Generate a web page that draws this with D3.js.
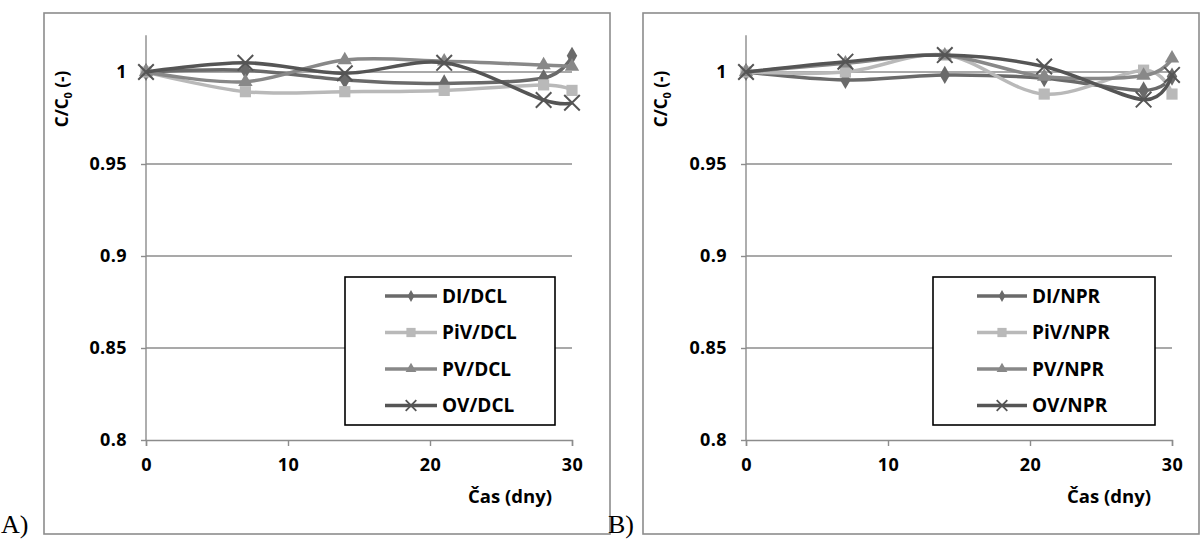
<!DOCTYPE html>
<html>
<head>
<meta charset="utf-8">
<script src="https://cdn.jsdelivr.net/npm/d3@7"></script>
<style>
  html, body { margin: 0; padding: 0; background: #fff; }
  svg { display: block; }
</style>
</head>
<body>
<svg id="chart" width="1200" height="539"></svg>
<script>
// Sampling days (x values)
const days = [0, 7, 14, 21, 28, 30];
const xTicks = [0, 10, 20, 30];
const yTicks = [0.8, 0.85, 0.9, 0.95, 1];
const yTickLabels = ["0.8", "0.85", "0.9", "0.95", "1"];

// Panel A: DCL solutions
const seriesNamesA = ["DI/DCL", "PiV/DCL", "PV/DCL", "OV/DCL"];
const diDCL  = [1, 1.001, 0.9957, 0.9938, 0.9967, 1.0088];
const pivDCL = [1, 0.9893, 0.9893, 0.990, 0.993, 0.990];
const pvDCL  = [1, 0.9947, 1.0065, 1.0058, 1.0038, 1.003];
const ovDCL  = [1, 1.005, 0.9993, 1.005, 0.9848, 0.9833];

// Panel B: NPR solutions
const seriesNamesB = ["DI/NPR", "PiV/NPR", "PV/NPR", "OV/NPR"];
const diNPR  = [1, 0.9957, 0.9984, 0.9966, 0.990, 0.9975];
const pivNPR = [1, 1.000, 1.0092, 0.988, 1.001, 0.988];
const pvNPR  = [1, 1.0047, 1.009, 0.9975, 0.998, 1.0074];
const ovNPR  = [1, 1.0056, 1.0092, 1.003, 0.985, 0.9984];

const xTitle = "Čas (dny)";

const SANS = "'Open Sans', 'Noto Sans', sans-serif";

// Shared look for the four series
const styles = [
  { color: "#6a6a6a", symbol: d3.symbolDiamond,  size: 95,  legendSize: 40, stroke: false },
  { color: "#b9b9b9", symbol: d3.symbolSquare,   size: 125, legendSize: 85, stroke: false },
  { color: "#888888", symbol: d3.symbolTriangle, size: 90,  legendSize: 50, stroke: false },
  { color: "#555555", symbol: d3.symbolX,        size: 160, legendSize: 75, stroke: true }
];

const svg = d3.select("#chart");

function boldText(sel, size) {
  return sel.style("font-family", SANS).style("font-weight", 700)
    .style("font-size", size + "px").style("fill", "#000");
}

function drawPanel(cfg) {
  const g = svg.append("g");

  // outer frame
  g.append("rect")
    .attr("x", cfg.frame[0]).attr("y", cfg.frame[1])
    .attr("width", cfg.frame[2] - cfg.frame[0]).attr("height", cfg.frame[3] - cfg.frame[1])
    .attr("fill", "#fff").attr("stroke", "#8c8c8c").attr("stroke-width", 1.6);

  const x = d3.scaleLinear().domain([0, 30]).range(cfg.xRange);
  const y = d3.scaleLinear().domain([0.8, 1.02]).range([440, 35.2]);

  // horizontal gridlines
  g.append("g").selectAll("line")
    .data(yTicks.filter(v => v > 0.8))
    .join("line")
    .attr("x1", x(0)).attr("x2", x(30))
    .attr("y1", d => y(d)).attr("y2", d => y(d))
    .attr("stroke", "#8c8c8c").attr("stroke-width", 1.4);

  // y axis
  const yAxis = g.append("g")
    .attr("transform", `translate(${x(0)},0)`)
    .call(d3.axisLeft(y).tickValues(yTicks)
      .tickFormat((d, i) => yTickLabels[i]).tickSize(5).tickPadding(14));
  // x axis
  const xAxis = g.append("g")
    .attr("transform", `translate(0,${y(0.8)})`)
    .call(d3.axisBottom(x).tickValues(xTicks).tickSize(6).tickPadding(12));

  [yAxis, xAxis].forEach(a => {
    a.select(".domain").attr("stroke", "#8c8c8c").attr("stroke-width", 1.4);
    a.selectAll(".tick line").attr("stroke", "#8c8c8c").attr("stroke-width", 1.4);
    boldText(a.selectAll(".tick text"), 18).style("letter-spacing", "0.4px");
  });
  yAxis.select(".domain").attr("d", `M0,${y(0.8)}V${y(1.02)}`);

  // y axis title  C/C0 (-)
  const yt = boldText(g.append("text"), 17)
    .attr("transform", `translate(${cfg.frame[0] + 24},99) rotate(-90)`)
    .attr("text-anchor", "middle");
  yt.append("tspan").text("C/C");
  yt.append("tspan").style("font-size", "11px").attr("dy", 4).text("0");
  yt.append("tspan").attr("dy", -4).text(" (-)");

  // x axis title
  boldText(g.append("text"), 18.5)
    .attr("x", cfg.xTitleX).attr("y", 503)
    .attr("text-anchor", "middle")
    .text(xTitle);

  // smoothed series lines
  const line = d3.line()
    .x((d, i) => x(days[i]))
    .y(d => y(d))
    .curve(d3.curveCardinal.tension(0));

  cfg.series.forEach((vals, si) => {
    const st = styles[si];
    const sg = g.append("g");
    sg.append("path")
      .attr("d", line(vals))
      .attr("fill", "none")
      .attr("stroke", st.color)
      .attr("stroke-width", 3.5)
      .attr("stroke-linejoin", "round");
    sg.selectAll("path.m")
      .data(vals)
      .join("path")
      .attr("class", "m")
      .attr("transform", (d, i) => `translate(${x(days[i])},${y(d)})`)
      .attr("d", d3.symbol().type(st.symbol).size(st.size))
      .attr("fill", st.stroke ? "none" : st.color)
      .attr("stroke", st.stroke ? st.color : "none")
      .attr("stroke-width", st.stroke ? 2 : 0);
  });

  // legend
  const lg = g.append("g");
  lg.append("rect")
    .attr("x", cfg.legend[0]).attr("y", 277)
    .attr("width", cfg.legend[1] - cfg.legend[0]).attr("height", 148)
    .attr("fill", "#fff").attr("stroke", "#000").attr("stroke-width", 1.6);
  cfg.names.forEach((name, i) => {
    const st = styles[i];
    const ly = 296 + i * 36.5;
    const x0 = cfg.legendLine[0], x1 = cfg.legendLine[1];
    lg.append("line")
      .attr("x1", x0).attr("x2", x1).attr("y1", ly).attr("y2", ly)
      .attr("stroke", st.color).attr("stroke-width", 3.5);
    lg.append("path")
      .attr("transform", `translate(${(x0 + x1) / 2},${ly})`)
      .attr("d", d3.symbol().type(st.symbol).size(st.legendSize))
      .attr("fill", st.stroke ? "none" : st.color)
      .attr("stroke", st.stroke ? st.color : "none")
      .attr("stroke-width", st.stroke ? 1.8 : 0);
    boldText(lg.append("text"), 19)
      .attr("x", x1 + 5).attr("y", ly)
      .attr("dy", "0.36em")
      .text(name);
  });

  // panel letter
  svg.append("text")
    .attr("x", cfg.letterX).attr("y", 533)
    .style("font-family", "'Liberation Serif', 'Times New Roman', serif")
    .style("font-weight", 400)
    .style("font-size", "26px")
    .style("fill", "#000")
    .text(cfg.letter);
}

drawPanel({
  frame: [44, 13, 610, 534],
  xRange: [146, 572],
  xTitleX: 510,
  series: [diDCL, pivDCL, pvDCL, ovDCL],
  names: seriesNamesA,
  legend: [345, 555],
  legendLine: [385, 437],
  letter: "A)",
  letterX: 1
});

drawPanel({
  frame: [643, 13, 1199, 534],
  xRange: [746, 1172],
  xTitleX: 1109,
  series: [diNPR, pivNPR, pvNPR, ovNPR],
  names: seriesNamesB,
  legend: [933, 1155],
  legendLine: [977, 1027],
  letter: "B)",
  letterX: 608
});
</script>
</body>
</html>
